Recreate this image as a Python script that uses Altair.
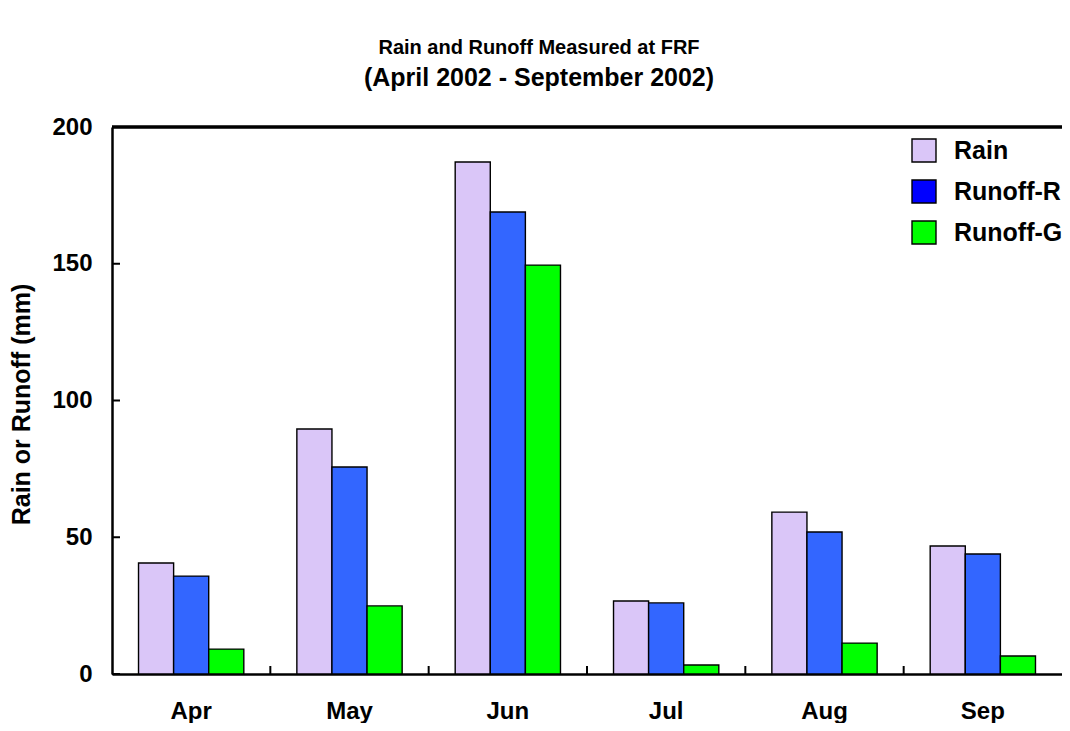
import altair as alt
import pandas as pd

# ---- data ----
months = ["Apr", "May", "Jun", "Jul", "Aug", "Sep"]
series = ["Rain", "Runoff-R", "Runoff-G"]
rain = [40.6, 89.6, 187.2, 26.7, 59.2, 46.8]
runoff_r = [35.8, 75.7, 168.9, 26.0, 51.9, 43.9]
runoff_g = [9.1, 24.9, 149.5, 3.3, 11.3, 6.6]
y_ticks = [0, 50, 100, 150, 200]

bar_colors = ["#dac6f8", "#3366ff", "#00ff00"]
legend_colors = ["#dac6f8", "#0000ff", "#00ff00"]

rows = []
for i, m in enumerate(months):
    for s, vals in zip(series, [rain, runoff_r, runoff_g]):
        rows.append({"month": m, "series": s, "value": vals[i]})
df = pd.DataFrame(rows)

W, H = 950, 547
FONT = "Liberation Sans"
P = 0.335
STEP = W / 6.0

xscale = alt.Scale(domain=months, paddingInner=P, paddingOuter=P / 2)
yscale = alt.Scale(domain=[0, 200], nice=False)

bars = alt.Chart(df).mark_bar(stroke="black", strokeWidth=1.4).encode(
    x=alt.X("month:N", sort=months, scale=xscale,
            axis=alt.Axis(title=None, ticks=False, domain=True, domainColor="black",
                          domainWidth=2.5, labelFont=FONT, labelFontSize=24,
                          labelFontWeight="bold", labelColor="black", labelPadding=25,
                          labelAngle=0)),
    xOffset=alt.XOffset("series:N", sort=series, scale=alt.Scale(domain=series, paddingInner=0, paddingOuter=0)),
    y=alt.Y("value:Q", scale=yscale,
            axis=alt.Axis(title="Rain or Runoff (mm)", values=y_ticks, ticks=False, tickSize=0,
                          grid=False, domain=True, domainColor="black", domainWidth=2.5,
                          labelFont=FONT, labelFontSize=24, labelFontWeight="bold",
                          labelColor="black", labelPadding=20,
                          titleFont=FONT, titleFontSize=25, titleFontWeight="bold",
                          titleColor="black", titleX=-91, titleY=277,
                          titleBaseline="middle")),
    color=alt.Color("series:N", sort=series,
                    scale=alt.Scale(domain=series, range=bar_colors), legend=None),
)

# inward y ticks
ytick_df = pd.DataFrame({"v": y_ticks})
yticks = alt.Chart(ytick_df).mark_rule(color="black", strokeWidth=2).encode(
    y=alt.Y("v:Q", scale=yscale), x=alt.value(0), x2=alt.value(8)
)

# inward x ticks at category boundaries
xtick_df = pd.DataFrame({"month": months[:-1]})
xticks = alt.Chart(xtick_df).mark_rule(color="black", strokeWidth=2, xOffset=STEP * P / 2).encode(
    x=alt.X("month:N", sort=months, scale=xscale, bandPosition=1),
    y=alt.value(H - 8), y2=alt.value(H),
)

# top border line
top_line = alt.Chart(ytick_df).mark_rule(color="black", strokeWidth=2.5).encode(
    x=alt.value(0), x2=alt.value(W + 30), y=alt.value(0)
)

layers = [bars, yticks, xticks, top_line]

# custom legend
for k, (s, c) in enumerate(zip(series, legend_colors)):
    y0 = 12 + 41 * k
    ldf = pd.DataFrame({"label": [s]})
    layers.append(
        alt.Chart(ldf).mark_rect(fill=c, stroke="black", strokeWidth=1.4).encode(
            x=alt.value(800), x2=alt.value(824), y=alt.value(y0), y2=alt.value(y0 + 23)
        )
    )
    layers.append(
        alt.Chart(ldf).mark_text(font=FONT, fontSize=25, fontWeight="bold", color="black",
                                 align="left", baseline="middle").encode(
            x=alt.value(842), y=alt.value(y0 + 12), text="label:N"
        )
    )

chart = alt.layer(*layers).properties(
    width=W, height=H,
    title=alt.TitleParams(
        text="Rain and Runoff Measured at FRF",
        subtitle="(April 2002 - September 2002)",
        font=FONT, fontSize=20, fontWeight="bold", color="black", anchor="middle",
        subtitleFont=FONT, subtitleFontSize=25, subtitleFontWeight="bold",
        subtitleColor="black", subtitlePadding=8,
        offset=24, dx=-48,
    ),
    autosize=alt.AutoSizeParams(type="none"),
    padding={"left": 104, "top": 119, "right": 0, "bottom": 49},
).configure_view(stroke=None)

chart.save("out.html", embed_options={"renderer": "svg", "actions": False})
